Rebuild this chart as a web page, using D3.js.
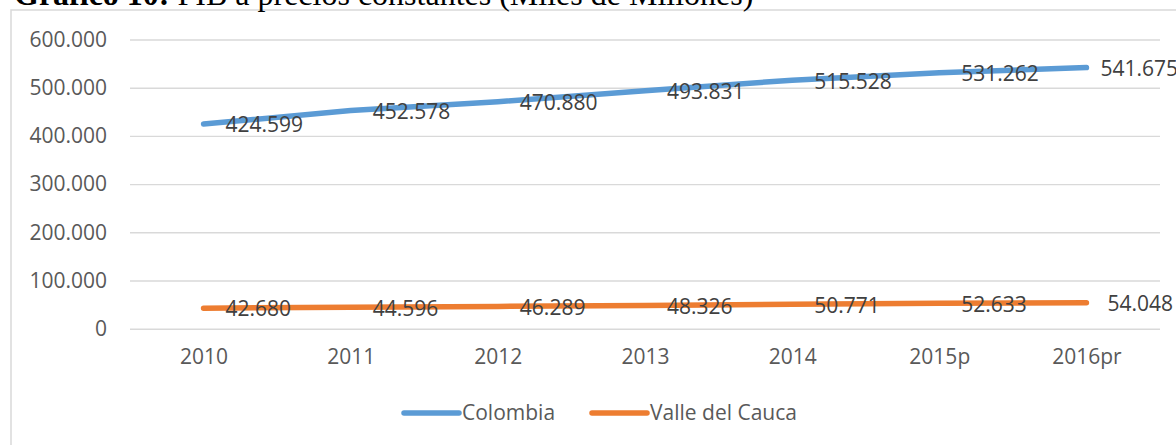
<!DOCTYPE html>
<html><head><meta charset="utf-8">
<script src="https://cdn.jsdelivr.net/npm/d3@7"></script>
<style>html,body{margin:0;padding:0;background:#fff;overflow:hidden}</style>
</head><body>
<svg id="c" width="1176" height="445"></svg>
<script>
const categories = ["2010","2011","2012","2013","2014","2015p","2016pr"];
const colombia = [424599, 452578, 470880, 493831, 515528, 531262, 541675];
const valle = [42680, 44596, 46289, 48326, 50771, 52633, 54048];
const seriesNames = ["Colombia","Valle del Cauca"];
const yTicks = [0,100000,200000,300000,400000,500000,600000];
const colors = ["#5B9BD5","#ED7D31"];

const svg = d3.select("#c");
const fmt = v => d3.format(",")(v).replace(/,/g,".");

// frame
svg.append("rect").attr("x",11).attr("y",10).attr("width",1200).attr("height",460)
  .attr("fill","#fff").attr("stroke","#d9d9d9").attr("stroke-width",1.5);

// title (cut off at top, as in the reference)
const title = svg.append("text").attr("x",14).attr("y",5)
  .attr("font-family","'Liberation Serif','Times New Roman',serif").attr("font-size",32).attr("fill","#000");
title.append("tspan").attr("font-weight","bold").text("Gráfico 10:");
title.append("tspan").text(" PIB a precios constantes (Miles de Millones)");

const x = d3.scalePoint().domain(categories).range([130,1160]).padding(0.5);
const y = d3.scaleLinear().domain([0,600000]).range([328.7,39.5]);

const font = "'Open Sans','Noto Sans',sans-serif";
const fs = 21;

// gridlines + y labels
const yAxis = d3.axisLeft(y).tickValues(yTicks).tickSize(-(1160-130)).tickFormat(fmt).tickPadding(23);
const gy = svg.append("g").attr("transform","translate(130,0)").call(yAxis);
gy.select(".domain").remove();
gy.selectAll(".tick line").attr("stroke","#d9d9d9").attr("stroke-width",1.4);
gy.selectAll(".tick text").attr("font-family",font).attr("font-size",fs).attr("fill","#595959");

// x axis labels
const xAxis = d3.axisBottom(x).tickSize(0).tickPadding(20);
const gx = svg.append("g").attr("transform","translate(0,328.7)").call(xAxis);
gx.select(".domain").remove();
gx.selectAll(".tick text").attr("font-family",font).attr("font-size",fs).attr("fill","#595959");

const series = [colombia, valle];
const lastGap = [14, 21];
const line = d3.line().x((d,i)=>x(categories[i])).y(d=>y(d));
series.forEach((s,k)=>{
  svg.append("path").datum(s).attr("d",line).attr("fill","none")
    .attr("stroke",colors[k]).attr("stroke-width",5.5).attr("stroke-linecap","round").attr("stroke-linejoin","round");
});
series.forEach((s,k)=>{
  svg.append("g").selectAll("text").data(s).join("text")
    .attr("x",(d,i)=>x(categories[i]) + (i===s.length-1 ? lastGap[k] : 22))
    .attr("y",d=>y(d)+1)
    .attr("dy","0.35em")
    .attr("font-family",font).attr("font-size",fs).attr("fill","#404040")
    .text(d=>fmt(d));
});

// legend
const leg = svg.append("g");
const legX = [404, 592];
seriesNames.forEach((n,k)=>{
  leg.append("line").attr("x1",legX[k]).attr("x2",legX[k]+55).attr("y1",413).attr("y2",413)
    .attr("stroke",colors[k]).attr("stroke-width",5.5).attr("stroke-linecap","round");
  leg.append("text").attr("x",legX[k]+58).attr("y",413).attr("dy","0.35em")
    .attr("font-family",font).attr("font-size",fs).attr("fill","#595959").text(n);
});
</script>
</body></html>
